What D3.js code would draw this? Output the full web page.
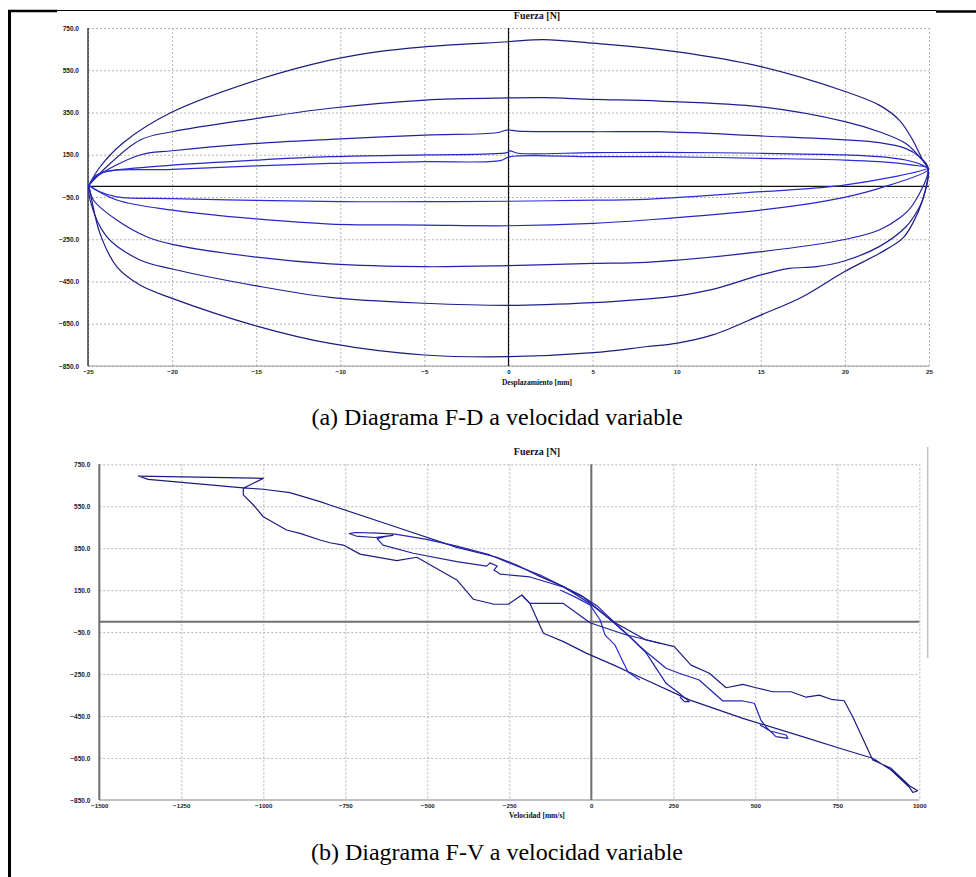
<!DOCTYPE html>
<html><head><meta charset="utf-8">
<script src="https://cdn.jsdelivr.net/npm/d3@7"></script>
<style>body{margin:0;background:#fff}svg{display:block}</style>
</head><body><svg id="c" width="976" height="877"></svg>
<script>
// ---------- DATA ----------
const fdXTicks = [-25,-20,-15,-10,-5,0,5,10,15,20,25];
const fTicks = [750,550,350,150,-50,-250,-450,-650,-850];
const fvXTicks = [-1500,-1250,-1000,-750,-500,-250,0,250,500,750,1000];

// F-D loops: [desplazamiento mm, fuerza N]
const loop1 = [[-24.95,5],[-24.29,92],[-22.92,206],[-20,352],[-14.95,504],[-10.61,598],[-8.04,635],[-5,661],[0,685],[2.07,695],[5.04,678],[9.96,638],[15,567],[20.06,448],[22.04,385],[23.23,314],[24.03,220],[24.62,125],[24.95,80],
  [24.62,-64],[24.03,-175],[23.43,-246],[22.04,-317],[19.96,-404],[17.49,-522],[15,-609],[12.14,-703],[9.96,-743],[8.17,-759],[5.04,-787],[0,-806],[-5,-798],[-10.6,-743],[-14.97,-661],[-20,-530],[-21.91,-467],[-23.29,-380],[-24.29,-222],[-24.78,-64],[-24.95,5]];
const loop2 = [[-24.95,5],[-24.09,78],[-21.9,220],[-19.99,259],[-14.97,322],[-10.61,370],[-4.97,409],[0,419],[2.07,420],[5.04,412],[9,404],[15,377],[20.06,306],[22.04,259],[23.6,204],[24.42,141],[24.95,80],
  [24.62,-64],[24.33,-112],[23.63,-191],[22.04,-285],[19.96,-353],[18.31,-380],[16.7,-388],[15,-419],[12.14,-487],[9.96,-519],[8.17,-533],[5.04,-550],[0,-563],[-4.97,-553],[-10.61,-525],[-14.97,-471],[-19.99,-391],[-21.91,-348],[-23.89,-238],[-24.88,-64],[-24.95,5]];
const loop3 = [[-24.95,5],[-24.48,46],[-21.91,149],[-19.99,169],[-14.97,204],[-10.61,223],[-4.97,243],[-0.7,254],[-0.1,267],[0.58,262],[5.04,259],[9,259],[15,239],[20.06,220],[22.04,207],[23.6,180],[24.42,141],[24.95,86],
  [24.03,-88],[23.23,-151],[22.04,-206],[20.06,-250],[15,-309],[8.17,-359],[5.04,-364],[0,-375],[-4.97,-380],[-10.61,-367],[-14.97,-335],[-19.99,-274],[-21.51,-238],[-23.29,-159],[-24.68,-64],[-24.95,5]];
const loop4 = [[-24.95,5],[-24.48,54],[-23.7,73],[-19.99,101],[-14.97,125],[-10.61,141],[-4.97,149],[-0.1,160],[0.08,168],[0.58,157],[5.04,160],[9,161],[15,157],[20.06,149],[22.04,141],[23.6,125],[24.6,101],[24.95,80],
  [22.04,-9],[19.2,-64],[15,-112],[8.17,-159],[5.04,-175],[0,-186],[-4.97,-183],[-10.61,-178],[-14.97,-154],[-19.99,-112],[-23.29,-64],[-24.95,5]];
const loop5 = [[-24.95,5],[-24.29,62],[-19.99,81],[-10.61,109],[-4.97,117],[-0.5,122],[0.08,141],[5.04,141],[9,141],[15,133],[20.06,125],[22.04,117],[24.03,101],[24.95,88],
  [20.06,7],[15,-25],[8.17,-61],[4,-66],[0,-70],[-5,-72],[-10,-72],[-15,-66],[-20,-58],[-23.29,-49],[-24.29,-25],[-24.95,5]];

// F-V traces: [velocidad mm/s, fuerza N]
const fvOuter = [[-1061,636],[-1000,683],[-1381,694],[-1351,678],[-1061,638],[-1000,631],[-919,615],[-827,572],[-797,556],[-593,450],[-410,354],[-288,307],[-227,270],[-166,222],[-85,167],[-4,87],[67,0],[167,-87],[253,-119],[304,-207],[360,-246],[411,-315],[462,-299],[502,-315],[553,-334],[609,-334],[655,-360],[695,-350],[731,-370],[771,-377],[797,-453],[858,-659],[914,-699],[970,-782],[995,-806],[980,-814],[970,-790],
  [914,-707],[858,-651],[767,-608],[644,-548],[462,-461],[299,-373],[167,-278],[67,-206],[-14,-151],[-85,-95],[-146,-55],[-187,87],[-212,127],[-253,83],[-299,84],[-360,107],[-410,199],[-532,307],[-593,291],[-705,322],[-756,365],[-797,376],[-827,389],[-888,421],[-929,437],[-1000,500],[-1030,556],[-1061,604],[-1061,636]];
const fvMid1 = [[-598,417],[-650,422],[-720,425],[-738,420],[-717,408],[-660,401],[-605,411],[-626,406],[-653,396],[-635,365],[-543,326],[-410,286],[-319,265],[-309,280],[-287,265],[-297,246],[-278,227],[-187,213],[-86,165],[-25,118],[27,51],[66,-2],[118,-73],[167,-149],[228,-294],[268,-341],[299,-381],[284,-381],[270,-359]];
const fvMid2 = [[-598,417],[-502,392],[-410,360],[-309,318],[-227,265],[-156,222],[-95,175],[-33,127],[18,75],[57,17],[103,-50],[148,-117],[167,-143],[228,-222],[268,-246],[329,-278],[401,-378],[462,-378],[497,-389],[517,-469],[533,-503],[563,-548],[599,-556],[594,-540],[545,-521],[514,-492]];
const fvMid3 = [[-95,151],[-50,118],[-4,80],[27,8],[42,-64],[72,-111],[94,-183],[112,-240],[148,-278]];
const fvMid4 = [[-212,127],[-187,87],[-85,87],[-4,-5],[100,-60],[209,-103]];

const loops = [loop1, loop2, loop3, loop4, loop5];
const loopColors = ["#1c1c80","#1e1e92","#2222a8","#2626c4","#2b2bdc"];

// ---------- DRAW ----------
const svg = d3.select("#c");
svg.append("rect").attr("width",976).attr("height",877).attr("fill","#fff");

// page frame
svg.append("line").attr("x1",9.5).attr("x2",9.5).attr("y1",10).attr("y2",877).attr("stroke","#000").attr("stroke-width",3);
svg.append("line").attr("x1",9).attr("x2",936).attr("y1",10.5).attr("y2",10.5).attr("stroke","#000").attr("stroke-width",1.2);
svg.append("line").attr("x1",8).attr("x2",57).attr("y1",11).attr("y2",11).attr("stroke","#000").attr("stroke-width",2.6);
svg.append("line").attr("x1",936).attr("x2",976).attr("y1",11.5).attr("y2",11.5).attr("stroke","#000").attr("stroke-width",2.4);

function panel(o){
  const g = svg.append("g");
  const x = d3.scaleLinear().domain(o.xd).range(o.xr);
  const y = d3.scaleLinear().domain([-850,750]).range(o.yr);
  g.append("g").attr("transform",`translate(0,${o.yr[1]})`)
    .call(d3.axisBottom(x).tickValues(o.xt).tickSize(o.yr[0]-o.yr[1]).tickFormat(""))
    .call(s=>s.select(".domain").remove())
    .call(s=>s.selectAll("line").attr("stroke","#b4b4b4").attr("stroke-dasharray","2,2"));
  g.append("g").attr("transform",`translate(${o.xr[0]},0)`)
    .call(d3.axisRight(y).tickValues(fTicks).tickSize(o.xr[1]-o.xr[0]).tickFormat(""))
    .call(s=>s.select(".domain").remove())
    .call(s=>s.selectAll("line").attr("stroke","#b4b4b4").attr("stroke-dasharray","2,2"));
  g.append("g").attr("transform",`translate(${o.xr[0]},0)`)
    .call(d3.axisLeft(y).tickValues(fTicks).tickSize(0).tickPadding(o.ypad).tickFormat(d3.format(".1f")))
    .call(s=>s.select(".domain").remove())
    .call(s=>s.selectAll("text").attr("font-family","Liberation Sans, Arial").attr("font-weight","bold").attr("font-size",6.5).attr("fill","#222"));
  g.append("g").attr("transform",`translate(0,${o.yr[0]})`)
    .call(d3.axisBottom(x).tickValues(o.xt).tickSize(0).tickPadding(o.xpad).tickFormat(d3.format("d")))
    .call(s=>s.select(".domain").remove())
    .call(s=>s.selectAll("text").attr("font-family","Liberation Sans, Arial").attr("font-weight","bold").attr("font-size",6.2).attr("fill","#222"));
  g.append("line").attr("x1",o.xr[0]).attr("x2",o.xr[1]).attr("y1",o.yr[0]).attr("y2",o.yr[0]).attr("stroke",o.bottomColor).attr("stroke-width",o.axW);
  g.append("line").attr("x1",o.xr[0]).attr("x2",o.xr[0]).attr("y1",o.yr[1]).attr("y2",o.yr[0]).attr("stroke",o.axisColor).attr("stroke-width",o.axW);
  g.append("line").attr("x1",o.xr[0]).attr("x2",o.xr[1]).attr("y1",y(0)).attr("y2",y(0)).attr("stroke",o.axisColor).attr("stroke-width",o.axW);
  g.append("line").attr("x1",x(0)).attr("x2",x(0)).attr("y1",o.yr[1]).attr("y2",o.yr[0]).attr("stroke",o.axisColor).attr("stroke-width",o.axW);
  g.append("text").attr("x",537).attr("y",o.yr[1]-9).attr("text-anchor","middle").attr("font-family","Liberation Serif, Times New Roman").attr("font-weight","bold").attr("font-size",10).attr("fill","#111").text("Fuerza [N]");
  g.append("text").attr("x",537).attr("y",o.yr[0]+o.xlabDy).attr("text-anchor","middle").attr("font-family","Liberation Serif, Times New Roman").attr("font-weight","bold").attr("font-size",7.5).attr("fill","#111").text(o.xlabel);
  g.append("text").attr("x",497).attr("y",o.capY).attr("text-anchor","middle").attr("font-family","Liberation Serif, Times New Roman").attr("font-size",24).attr("fill","#000").text(o.caption);
  return {g,x,y};
}

// Panel (a)
const A = panel({xd:[-25,25], xr:[88,929], yr:[366,28], xt:fdXTicks, ypad:9, xpad:4,
  axisColor:"#111", bottomColor:"#999", axW:1.2, xlabel:"Desplazamiento [mm]", xlabDy:19, caption:"(a) Diagrama F-D a velocidad variable", capY:425});
const lineA = d3.line().x(d=>A.x(d[0])).y(d=>A.y(d[1])).curve(d3.curveCatmullRom.alpha(0.5));
loops.forEach((L,i)=>{
  A.g.append("path").attr("d",lineA(L)).attr("fill","none").attr("stroke",loopColors[i]).attr("stroke-width",1.2);
});

// Panel (b)
const B = panel({xd:[-1500,1000], xr:[99.3,919.3], yr:[800,464.3], xt:fvXTicks, ypad:9, xpad:4,
  axisColor:"#707070", bottomColor:"#c0c0c0", axW:2, xlabel:"Velocidad [mm/s]", xlabDy:18, caption:"(b) Diagrama F-V a velocidad variable", capY:860});
svg.append("line").attr("x1",927.7).attr("x2",927.7).attr("y1",447).attr("y2",658).attr("stroke","#c0c0c0").attr("stroke-width",1.5);
const lineB = d3.line().x(d=>B.x(d[0])).y(d=>B.y(d[1]));
[[fvOuter,"#1c1c80"],[fvMid1,"#22229a"],[fvMid2,"#2424b0"],[fvMid3,"#2a2ad0"],[fvMid4,"#22229a"]].forEach(([T,c])=>{
  B.g.append("path").attr("d",lineB(T)).attr("fill","none").attr("stroke",c).attr("stroke-width",1.2).attr("stroke-linejoin","round");
});
</script></body></html>
